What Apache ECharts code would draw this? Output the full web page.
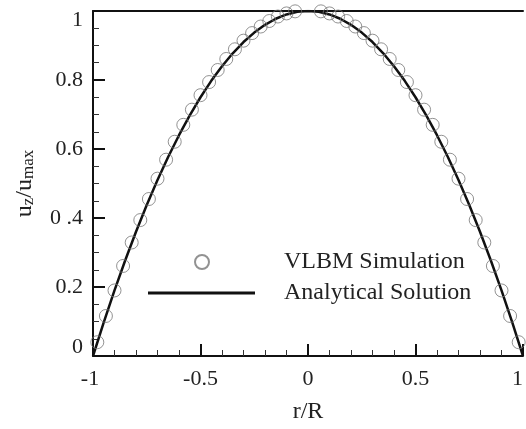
<!DOCTYPE html>
<html>
<head>
<meta charset="utf-8">
<script src="https://cdn.jsdelivr.net/npm/echarts@6/dist/echarts.min.js"></script>
<style>
  html, body { margin: 0; padding: 0; background: #fff; }
  #chart { width: 526px; height: 429px; }
</style>
</head>
<body>
<div id="chart"></div>
<script>
// tick labels as printed on the figure
const xTickLabels = ['-1', '-0.5', '0', '0.5', '1'];
const yTickLabels = ['0', '0.2', '0 .4', '0.6', '0.8', '1'];

// VLBM simulation (circles)
const simR = [
  -0.98, -0.94, -0.90, -0.86, -0.82, -0.78, -0.74, -0.70, -0.66, -0.62,
  -0.58, -0.54, -0.50, -0.46, -0.42, -0.38, -0.34, -0.30, -0.26, -0.22,
  -0.18, -0.14, -0.10, -0.06, -0.02, 0.02, 0.06, 0.10, 0.14, 0.18,
  0.22, 0.26, 0.30, 0.34, 0.38, 0.42, 0.46, 0.50, 0.54, 0.58,
  0.62, 0.66, 0.70, 0.74, 0.78, 0.82, 0.86, 0.90, 0.94, 0.98
];
const simU = [
  0.040, 0.116, 0.190, 0.261, 0.329, 0.394, 0.455, 0.514, 0.569, 0.621,
  0.670, 0.714, 0.756, 0.794, 0.829, 0.861, 0.889, 0.914, 0.936, 0.955,
  0.971, 0.984, 0.993, 0.999, 1.002, 1.002, 0.999, 0.993, 0.984, 0.971,
  0.955, 0.936, 0.914, 0.889, 0.861, 0.829, 0.794, 0.756, 0.714, 0.670,
  0.621, 0.569, 0.514, 0.455, 0.394, 0.329, 0.261, 0.190, 0.116, 0.040
];

// analytical solution (solid line)
const anaR = [
  -1.00, -0.95, -0.90, -0.85, -0.80, -0.75, -0.70, -0.65, -0.60, -0.55,
  -0.50, -0.45, -0.40, -0.35, -0.30, -0.25, -0.20, -0.15, -0.10, -0.05,
  0.00, 0.05, 0.10, 0.15, 0.20, 0.25, 0.30, 0.35, 0.40, 0.45,
  0.50, 0.55, 0.60, 0.65, 0.70, 0.75, 0.80, 0.85, 0.90, 0.95, 1.00
];
const anaU = [
  0.000, 0.0975, 0.190, 0.2775, 0.360, 0.4375, 0.510, 0.5775, 0.640, 0.6975,
  0.750, 0.7975, 0.840, 0.8775, 0.910, 0.9375, 0.960, 0.9775, 0.990, 0.9975,
  1.000, 0.9975, 0.990, 0.9775, 0.960, 0.9375, 0.910, 0.8775, 0.840, 0.7975,
  0.750, 0.6975, 0.640, 0.5775, 0.510, 0.4375, 0.360, 0.2775, 0.190, 0.0975, 0.000
];

const font = "'Liberation Serif', 'Times New Roman', serif";
const chart = echarts.init(document.getElementById('chart'));

// end labels are nudged inward like in the original figure
const xLabel = (v) => {
  const i = Math.round((v + 1) / 0.5);
  if (i === 0) return '{l|' + xTickLabels[i] + '}';
  if (i === xTickLabels.length - 1) return '{r|' + xTickLabels[i] + '}';
  return xTickLabels[i] !== undefined ? xTickLabels[i] : '';
};
const yLabel = (v) => {
  const i = Math.round(v / 0.2);
  if (i === 0) return '{b|' + yTickLabels[i] + '}';
  if (i === yTickLabels.length - 1) return '{t|' + yTickLabels[i] + '}';
  return yTickLabels[i] !== undefined ? yTickLabels[i] : '';
};
const lblRich = (extra) => Object.assign({ fontFamily: font, fontSize: 22, color: '#222' }, extra);

const option = {
  animation: false,
  backgroundColor: '#fff',
  grid: { left: 93, right: 1, top: 11, bottom: 67 },
  legend: [
    {
      data: ['VLBM Simulation'],
      left: 194, top: 250, padding: 0,
      itemWidth: 14, itemHeight: 14,
      selectedMode: false,
      textStyle: { fontFamily: font, fontSize: 24, color: '#222', padding: [0, 0, 0, 70] }
    },
    {
      data: [{ name: 'Analytical Solution', icon: 'rect' }],
      left: 148, top: 281, padding: 0,
      itemWidth: 107, itemHeight: 3,
      selectedMode: false,
      textStyle: { fontFamily: font, fontSize: 24, color: '#222', padding: [0, 0, 0, 24] }
    }
  ],
  xAxis: [
    {
      type: 'value', min: -1, max: 1, interval: 0.5,
      name: 'r/R', nameLocation: 'middle', nameGap: 44,
      nameTextStyle: { fontFamily: font, fontSize: 24, color: '#222' },
      axisLine: { lineStyle: { color: '#111', width: 2 } },
      axisTick: { inside: true, length: 12, lineStyle: { color: '#111', width: 2 } },
      minorTick: { show: true, splitNumber: 5, length: 6, lineStyle: { color: '#333', width: 1 } },
      axisLabel: {
        margin: 12, fontFamily: font, fontSize: 22, color: '#222',
        formatter: xLabel,
        rich: { l: lblRich({ padding: [0, 6, 0, 0] }), r: lblRich({ padding: [0, 11, 0, 0] }) }
      },
      splitLine: { show: false }
    },
    {
      type: 'value', min: -1, max: 1, position: 'top',
      axisLine: { show: true, lineStyle: { color: '#111', width: 2 } },
      axisTick: { show: false }, axisLabel: { show: false }, splitLine: { show: false }
    }
  ],
  yAxis: {
    type: 'value', min: 0, max: 1, interval: 0.2,
    name: '{m|u}{s|z}{m|/u}{s|max}', nameLocation: 'middle', nameGap: 56, nameRotate: 90,
    nameTextStyle: {
      fontFamily: font, color: '#222',
      rich: {
        m: { fontFamily: font, fontSize: 24, color: '#222', verticalAlign: 'bottom', lineHeight: 30 },
        s: { fontFamily: font, fontSize: 17, color: '#222', verticalAlign: 'bottom', lineHeight: 20, padding: [6, 0, 0, 0] }
      }
    },
    axisLine: { show: true, onZero: false, lineStyle: { color: '#111', width: 2 } },
    axisTick: { inside: true, length: 12, lineStyle: { color: '#111', width: 2 } },
    minorTick: { show: true, splitNumber: 4, length: 6, lineStyle: { color: '#333', width: 1 } },
    axisLabel: {
      margin: 10, fontFamily: font, fontSize: 22, color: '#222',
      formatter: yLabel,
      rich: { t: lblRich({ padding: [18, 0, 0, 0] }), b: lblRich({ padding: [0, 0, 18, 0] }) }
    },
    splitLine: { show: false }
  },
  series: [
    {
      name: 'VLBM Simulation',
      type: 'scatter',
      symbol: 'circle', symbolSize: 13,
      itemStyle: { color: 'rgba(0,0,0,0)', borderColor: '#777', borderWidth: 1 },
      data: simR.map((r, i) => [r, simU[i]]),
      z: 3
    },
    {
      name: 'Analytical Solution',
      type: 'line',
      symbol: 'none', showSymbol: false,
      lineStyle: { color: '#111', width: 2.5 },
      itemStyle: { color: '#111' },
      data: anaR.map((r, i) => [r, anaU[i]]),
      z: 2
    }
  ]
};

chart.setOption(option);
</script>
</body>
</html>
